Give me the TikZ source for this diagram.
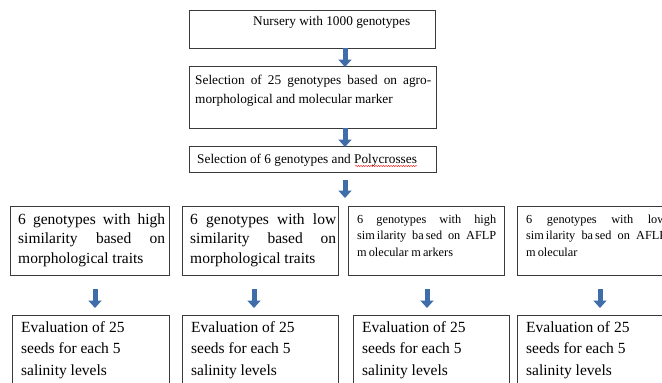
\documentclass[tikz,border=0pt]{standalone}
\usepackage{fontspec}
\setmainfont{Liberation Serif}
\usetikzlibrary{arrows.meta,decorations.pathmorphing}
\definecolor{arrowblue}{HTML}{3F6DAA}
\definecolor{boxline}{HTML}{3A3A3A}
\newcommand{\fsz}[2]{\fontsize{#1}{#2}\selectfont}
\begin{document}
\begin{tikzpicture}[x=1pt,y=-1pt,
  box/.style={draw=boxline,line width=0.9pt,anchor=north west,inner sep=0pt},
  txt/.style={inner sep=0pt,align=left,anchor=north west},
  bigtxt/.style={txt,font=\fsz{15.5}{19.5}},
  evaltxt/.style={txt,font=\fsz{15.5}{21.5}},
  smalltxt/.style={txt,font=\fsz{12.3}{16.5}},
  toptxt/.style={txt,font=\fsz{13.3}{19}},
  blockarrow/.style={draw=arrowblue,line width=5pt,-{Triangle[width=13pt,length=7.5pt]}}]
\useasboundingbox (0,0) rectangle (662,383);
\fill[white] (0,0) rectangle (662,383);
% top boxes
\node[box,minimum width=246pt,minimum height=38pt] (n1) at (189,10) {};
\node[box,minimum width=247pt,minimum height=62pt] (n2) at (189,66) {};
\node[box,minimum width=247pt,minimum height=26pt] (n3) at (189,146) {};
\node[toptxt,anchor=base west] (t1) at (253,25) {Nursery with 1000 genotypes};
\node[toptxt] (t2) at (195,73.5) {\rule{0pt}{10.6pt}\makebox[236pt][s]{Selection of 25 genotypes based on agro-}\\morphological and molecular marker};
\node[toptxt,anchor=base west] (t3) at (197,163.5) {Selection of 6 genotypes and Polycrosses};
\draw[red,line width=0.4pt,decorate,decoration={snake,amplitude=0.6pt,segment length=2.5pt}]
  ([xshift=-62pt,yshift=-2.5pt]t3.base east) -- ([yshift=-2.5pt]t3.base east);
% row boxes
\node[box,minimum width=159pt,minimum height=69pt] (rA) at (10,206) {};
\node[box,minimum width=156pt,minimum height=69pt] (rB) at (182,206) {};
\node[box,minimum width=156pt,minimum height=69pt] (rC) at (348,206) {};
\node[box,minimum width=170pt,minimum height=69pt] (rD) at (517,206) {};
\node[bigtxt] (tA) at (18,211.6) {\rule{0pt}{12.4pt}\makebox[147pt][s]{6 genotypes with high}\\\makebox[147pt][s]{similarity based on}\\morphological traits};
\node[bigtxt] (tB) at (190,211.6) {\rule{0pt}{12.4pt}\makebox[146pt][s]{6 genotypes with low}\\\makebox[146pt][s]{similarity based on}\\morphological traits};
\node[smalltxt] (tC) at (357,213.2) {\rule{0pt}{9.8pt}\makebox[139pt][s]{6 genotypes with high}\\\makebox[139pt][s]{sim\hspace{2pt}ilarity ba\hspace{2pt}sed on AFLP}\\m\hspace{2pt}olecular m\hspace{2pt}arkers};
\node[smalltxt] (tD) at (526,213.2) {\rule{0pt}{9.8pt}\makebox[140pt][s]{6 genotypes with low}\\\makebox[140pt][s]{sim\hspace{2pt}ilarity ba\hspace{2pt}sed on AFLP}\\m\hspace{2pt}olecular};
% evaluation boxes
\node[box,minimum width=157pt,minimum height=90pt] (bA) at (12,315) {};
\node[box,minimum width=156pt,minimum height=90pt] (bB) at (182,315) {};
\node[box,minimum width=156pt,minimum height=90pt] (bC) at (353,315) {};
\node[box,minimum width=170pt,minimum height=90pt] (bD) at (517,315) {};
\node[evaltxt] (eA) at (21,319.6) {\rule{0pt}{12.4pt}Evaluation of 25\\seeds for each 5\\salinity levels};
\node[evaltxt] (eB) at (191,319.6) {\rule{0pt}{12.4pt}Evaluation of 25\\seeds for each 5\\salinity levels};
\node[evaltxt] (eC) at (362,319.6) {\rule{0pt}{12.4pt}Evaluation of 25\\seeds for each 5\\salinity levels};
\node[evaltxt] (eD) at (526,319.6) {\rule{0pt}{12.4pt}Evaluation of 25\\seeds for each 5\\salinity levels};
% arrows
\coordinate (a3s) at (345,180);
\coordinate (a3e) at (345,198);
\draw[blockarrow] ([xshift=156pt,yshift=1pt]n1.south west) -- ([xshift=156pt,yshift=-1pt]n2.north west);
\draw[blockarrow] ([xshift=156pt,yshift=1pt]n2.south west) -- ([xshift=156pt,yshift=-1pt]n3.north west);
\draw[blockarrow] (a3s) -- (a3e);
\draw[blockarrow,shorten <=13pt,shorten >=7pt] ([xshift=85pt]rA.south west) -- ([xshift=83pt]bA.north west);
\draw[blockarrow,shorten <=13pt,shorten >=7pt] ([xshift=72pt]rB.south west) -- ([xshift=72pt]bB.north west);
\draw[blockarrow,shorten <=13pt,shorten >=7pt] ([xshift=79pt]rC.south west) -- ([xshift=74pt]bC.north west);
\draw[blockarrow,shorten <=13pt,shorten >=7pt] ([xshift=83pt]rD.south west) -- ([xshift=83pt]bD.north west);
\end{tikzpicture}
\end{document}
